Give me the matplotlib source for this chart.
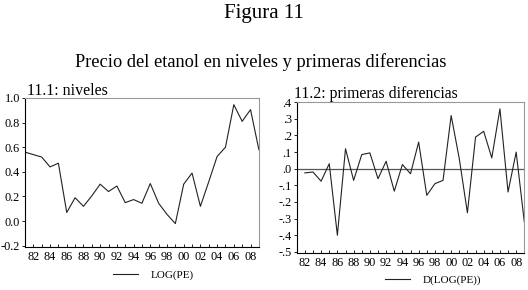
import numpy as np
import matplotlib.pyplot as plt
from matplotlib.ticker import MultipleLocator

# data
years = np.arange(1981, 2010)
log_pe = [0.56, 0.54, 0.52, 0.44, 0.47, 0.07, 0.19, 0.12, 0.205, 0.30,
          0.24, 0.285, 0.15, 0.175, 0.145, 0.305, 0.145, 0.055, -0.02, 0.30,
          0.39, 0.12, 0.32, 0.525, 0.60, 0.945, 0.81, 0.905, 0.58]
d_years = years[1:]
d_log_pe = [-0.025, -0.02, -0.075, 0.03, -0.40, 0.12, -0.07, 0.085, 0.095, -0.06,
            0.045, -0.135, 0.025, -0.03, 0.16, -0.16, -0.09, -0.07, 0.32, 0.06,
            -0.265, 0.19, 0.225, 0.065, 0.36, -0.14, 0.10, -0.32]

xtick_years = np.arange(1982, 2010, 2)
xtick_labels = ["%02d" % (y % 100) for y in xtick_years]
lvl_ticks = [-0.2, 0.0, 0.2, 0.4, 0.6, 0.8, 1.0]
lvl_labels = ["-0.2", "0.0", "0.2", "0.4", "0.6", "0.8", "1.0"]
dif_ticks = [-0.5, -0.4, -0.3, -0.2, -0.1, 0.0, 0.1, 0.2, 0.3, 0.4]
dif_labels = ["-.5", "-.4", "-.3", "-.2", "-.1", ".0", ".1", ".2", ".3", ".4"]

plt.rcParams['font.family'] = 'Liberation Serif'

fig = plt.figure(figsize=(5.28, 2.90), dpi=100)
fig.text(0.5, 0.955, "Figura 11", ha='center', va='center', fontsize=15)
fig.text(0.493, 0.785, "Precio del etanol en niveles y primeras diferencias",
         ha='center', va='center', fontsize=13.2)

ax1 = fig.add_axes([0.0473, 0.1483, 0.443, 0.514])
ax2 = fig.add_axes([0.562, 0.1286, 0.431, 0.519])


def style(ax, ticks, labels, ylim):
    ax.set_xlim(1981, 2009)
    ax.set_ylim(*ylim)
    ax.set_xticks(xtick_years)
    ax.set_xticklabels(xtick_labels)
    ax.xaxis.set_minor_locator(MultipleLocator(1))
    ax.set_yticks(ticks)
    ax.set_yticklabels(labels)
    ax.tick_params(axis='x', which='both', direction='in', length=2.5,
                   width=0.6, labelsize=8.8, pad=3, top=False)
    ax.tick_params(axis='y', direction='out', length=2.5, width=0.6,
                   labelsize=8.8, pad=1)
    for s in ['left', 'bottom']:
        ax.spines[s].set_color('black')
        ax.spines[s].set_linewidth(0.8)
    for s in ['top', 'right']:
        ax.spines[s].set_color('#999999')
        ax.spines[s].set_linewidth(0.8)


ax1.plot(years, log_pe, color='#222222', lw=0.8)
style(ax1, lvl_ticks, lvl_labels, (-0.21, 1.0))
ax1.text(0.01, 1.02, "11.1: niveles", transform=ax1.transAxes, fontsize=11.5)
ax1.legend([ax1.lines[0]], ["LOG(PE)"], loc='upper center',
           bbox_to_anchor=(0.55, -0.085), frameon=False, fontsize=8,
           handlelength=2.2, handletextpad=1.2)

ax2.axhline(0, color='#555555', lw=0.9)
l2, = ax2.plot(d_years, d_log_pe, color='#222222', lw=0.8)
style(ax2, dif_ticks, dif_labels, (-0.505, 0.4))
ax2.text(-0.01, 1.03, "11.2: primeras diferencias", transform=ax2.transAxes,
         fontsize=11.3)
ax2.legend([l2], ["D(LOG(PE))"], loc='upper center',
           bbox_to_anchor=(0.6, -0.08), frameon=False, fontsize=8,
           handlelength=2.2, handletextpad=1.2)

fig.savefig("out.png", dpi=100)
